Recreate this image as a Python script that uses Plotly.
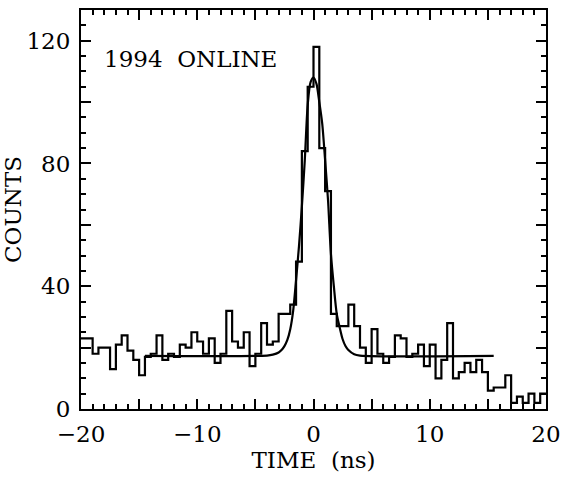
import plotly.graph_objects as go

# ---- data ----
bin_edges = [-20 + 0.5 * i for i in range(81)]
counts = [23, 23, 18, 20, 20, 13, 21, 24, 19, 16,
          11, 17, 18, 24, 16, 18, 17, 21, 20, 25,
          22, 18, 23, 15, 18, 32, 22, 20, 25, 14,
          18, 28, 21, 22, 31, 31, 34, 48, 84, 105,
          118, 85, 71, 31, 27, 27, 34, 27, 20, 15,
          26, 18, 15, 17, 24, 23, 17, 18, 21, 14,
          21, 10, 16, 28, 10, 12, 15, 12, 16, 12,
          6, 7, 7, 11, 2, 4, 2, 5, 2, 5]

fit_x = [-14.5, -4.0, -3.5, -3.0, -2.75, -2.5, -2.25, -2.0, -1.75, -1.5, -1.25, -1.0,
         -0.75, -0.5, -0.25, 0.0, 0.25, 0.5, 0.75, 1.0, 1.25, 1.5, 1.75, 2.0,
         2.25, 2.5, 2.75, 3.0, 3.5, 4.0, 15.5]
fit_y = [17.3, 17.4, 17.7, 18.4, 19.2, 20.5, 22.5, 26, 32, 42, 53, 66,
         81, 99, 106.5, 108, 106, 100, 93, 81, 68, 50.5, 40, 31,
         26.6, 22.8, 20.5, 19.2, 17.8, 17.4, 17.3]

x_tickvals = [-20, -15, -10, -5, 0, 5, 10, 15, 20]
x_ticktext = ["\u221220", "", "\u221210", "", "0", "", "10", "", "20"]
y_tickvals = [0, 20, 40, 60, 80, 100, 120]
y_ticktext = ["0", "", "40", "", "80", "", "120"]

FONT = "DejaVu Serif"
FS = 23

fig = go.Figure()
fig.add_trace(go.Scatter(
    x=bin_edges, y=counts + [counts[-1]],
    mode="lines", line=dict(shape="hv", color="black", width=2.2),
    showlegend=False, hoverinfo="skip"))
fig.add_trace(go.Scatter(
    x=fit_x, y=fit_y, mode="lines",
    line=dict(shape="spline", smoothing=0.8, color="black", width=2.2),
    showlegend=False, hoverinfo="skip"))

fig.add_annotation(x=-18.2, y=114, xref="x", yref="y", text="1994  ONLINE",
                   showarrow=False, xanchor="left", yanchor="middle",
                   font=dict(family=FONT, size=FS, color="black"))

axis_common = dict(showgrid=False, zeroline=False, showline=True, linecolor="black",
                   linewidth=2.2, mirror="allticks", ticks="inside", tickcolor="black",
                   tickwidth=1.5, tickfont=dict(family=FONT, size=FS, color="black"))

fig.update_xaxes(range=[-20, 20], tickmode="array", tickvals=x_tickvals,
                 ticktext=x_ticktext, ticklen=10, ticklabelstandoff=3,
                 minor=dict(dtick=1, tick0=0, ticks="inside", ticklen=5,
                            tickcolor="black", tickwidth=1.5),
                 title=dict(text="TIME  (ns)", font=dict(family=FONT, size=FS, color="black"),
                            standoff=0),
                 **axis_common)
fig.update_yaxes(range=[0, 130], tickmode="array", tickvals=y_tickvals,
                 ticktext=y_ticktext, ticklen=10, ticklabelstandoff=4,
                 minor=dict(dtick=5, tick0=0, ticks="inside", ticklen=5,
                            tickcolor="black", tickwidth=1.5),
                 title=dict(text="COUNTS", font=dict(family=FONT, size=FS, color="black"),
                            standoff=0),
                 **axis_common)

fig.update_layout(width=569, height=478, margin=dict(l=81, r=19, t=8, b=69),
                  paper_bgcolor="white", plot_bgcolor="white")

fig.write_html("out.html")
